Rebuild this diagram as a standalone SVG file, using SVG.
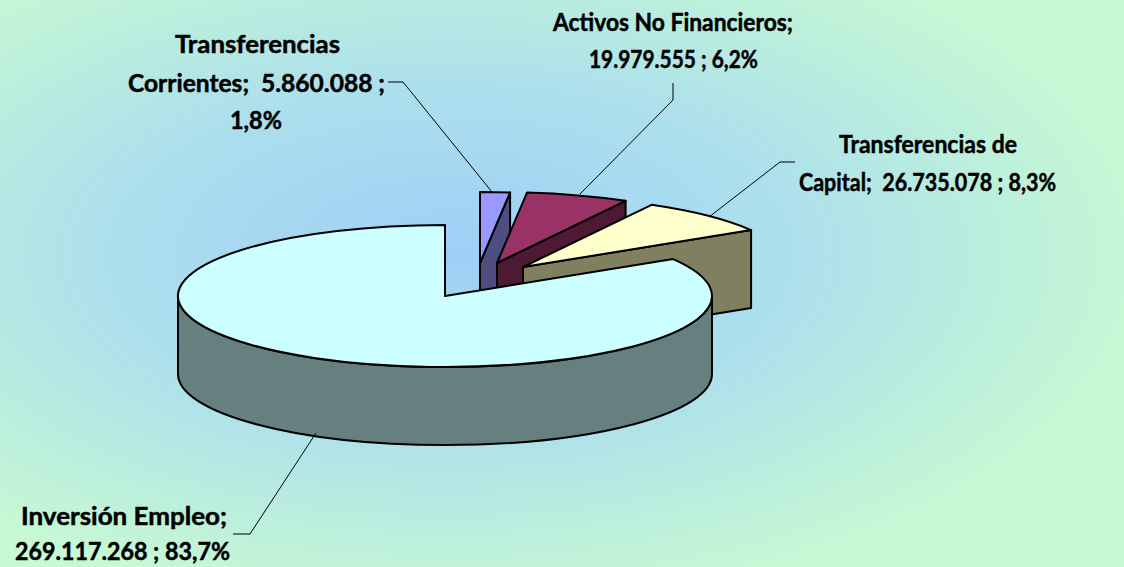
<svg xmlns="http://www.w3.org/2000/svg" width="1124" height="567" viewBox="0 0 1124 567">
<defs>
<radialGradient id="bg" cx="0.4" cy="0.45" r="0.62">
<stop offset="0" stop-color="#9ecff7"/>
<stop offset="0.5" stop-color="#ade0ec"/>
<stop offset="0.8" stop-color="#bcefdc"/>
<stop offset="1" stop-color="#c6f9d4"/>
</radialGradient>
<style>
.edge{stroke:#000;stroke-width:2;stroke-linejoin:round}
.lead{fill:none;stroke:#000;stroke-width:1}
.lbl{font-family:Lato,"Liberation Sans",sans-serif;font-weight:bold;font-size:25px;fill:#000;stroke:#000;stroke-width:0.5;text-anchor:middle}
</style>
</defs>
<rect x="0" y="0" width="1124" height="567" fill="url(#bg)"/>

<g id="transferencias-corrientes">
<path class="edge" fill="#4d4d80" d="M480,263 L510.1,192.45 L510.1,270.45 L480,341 Z"/>
<path class="edge" fill="#9999ff" d="M480,263 L480,192 A267,71 0 0,1 510.1,192.45 Z"/>
</g>
<g id="activos-no-financieros">
<path class="edge" fill="#4d1933" d="M497,263 L625.6,200.8 L625.6,278.8 L497,341 Z"/>
<path class="edge" fill="#993366" d="M497,263 L527.1,192.45 A267,71 0 0,1 625.6,200.8 Z"/>
</g>
<g id="transferencias-capital">
<path class="edge" fill="#808060" d="M523,267 L751.1,230.1 L751.1,308.1 L523,345 Z"/>
<path class="edge" fill="#ffffcc" d="M523,267 L651.6,204.8 A267,71 0 0,1 751.1,230.1 Z"/>
</g>
<g id="inversion-empleo">
<path class="edge" fill="#668080" d="M178,296 A267,71 0 0,0 712,296 L712,374 A267,71 0 0,1 178,374 Z"/>
<path class="edge" fill="#ccffff" d="M445,296 L445,225 A267,71 0 1,0 673.1,259.1 Z"/>
</g>

<g id="connectors">
<polyline class="lead" points="388,82 403,82 492,192"/>
<polyline class="lead" points="673,83 673,100 580,194"/>
<polyline class="lead" points="795,162 780,162 709,217"/>
<polyline class="lead" points="233,534 250,534 316,433"/>
</g>

<g id="labels">
<text class="lbl" x="257.5" y="53" textLength="165" lengthAdjust="spacingAndGlyphs">Transferencias</text>
<text class="lbl" x="256.5" y="92" textLength="257" lengthAdjust="spacingAndGlyphs" xml:space="preserve">Corrientes;  5.860.088 ;</text>
<text class="lbl" x="256" y="129" textLength="52" lengthAdjust="spacingAndGlyphs">1,8%</text>
<text class="lbl" x="673" y="31" textLength="240" lengthAdjust="spacingAndGlyphs">Activos No Financieros;</text>
<text class="lbl" x="673.5" y="68" textLength="169" lengthAdjust="spacingAndGlyphs">19.979.555 ; 6,2%</text>
<text class="lbl" x="928" y="153" textLength="178" lengthAdjust="spacingAndGlyphs">Transferencias de</text>
<text class="lbl" x="927.5" y="191" textLength="257" lengthAdjust="spacingAndGlyphs" xml:space="preserve">Capital;  26.735.078 ; 8,3%</text>
<text class="lbl" x="124" y="525" textLength="206" lengthAdjust="spacingAndGlyphs">Inversión Empleo;</text>
<text class="lbl" x="122.5" y="560" textLength="215" lengthAdjust="spacingAndGlyphs">269.117.268 ; 83,7%</text>
</g>
</svg>
